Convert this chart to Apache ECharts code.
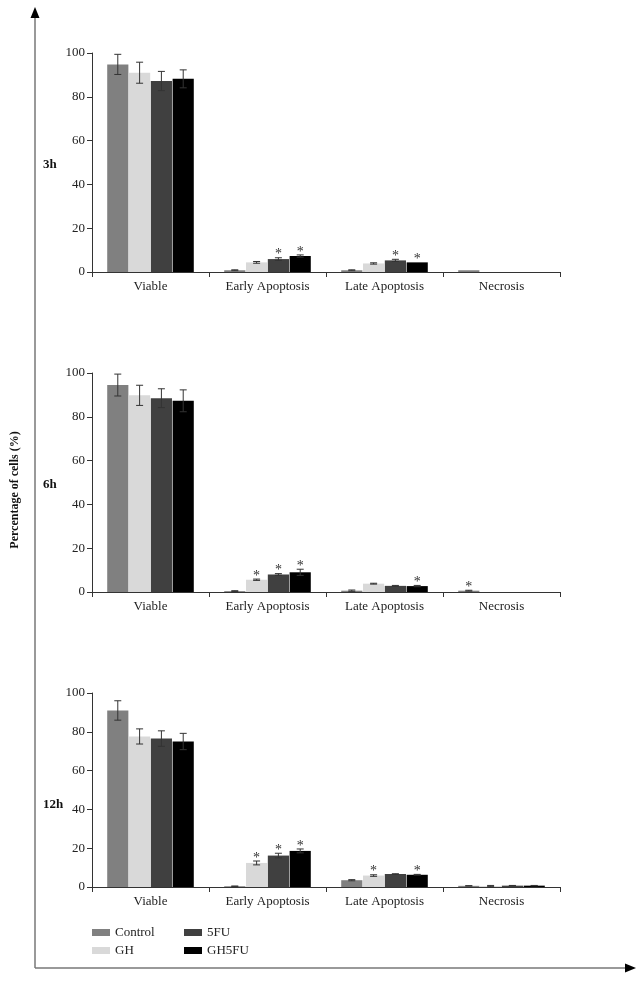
<!DOCTYPE html>
<html>
<head>
<meta charset="utf-8">
<style>html,body{margin:0;padding:0;background:#fff;}#c{width:644px;height:982px;}</style>
<script src="https://cdn.jsdelivr.net/npm/echarts@6/dist/echarts.min.js"></script>
</head>
<body>
<div id="c"></div>
<script>
const categories = ['Viable', 'Early Apoptosis', 'Late Apoptosis', 'Necrosis'];
const seriesNames = ['Control', 'GH', '5FU', 'GH5FU'];
const seriesColors = ['#808080', '#d9d9d9', '#404040', '#000000'];
const panelLabels = ['3h', '6h', '12h'];
const yTicks = [0, 20, 40, 60, 80, 100];

// 3h
const h3Control = [94.8, 0.8, 0.8, 0.8];
const h3GH = [91.0, 4.4, 3.9, 0];
const h3FU = [87.2, 5.9, 5.3, 0];
const h3GHFU = [88.2, 7.3, 4.4, 0];
const h3ControlErr = [4.6, 0.2, 0.2, 0];
const h3GHErr = [4.8, 0.4, 0.3, 0];
const h3FUErr = [4.4, 0.6, 0.5, 0];
const h3GHFUErr = [4.1, 0.5, 0, 0];
const h3ControlStar = [0, 0, 0, 0];
const h3GHStar = [0, 0, 0, 0];
const h3FUStar = [0, 1, 1, 0];
const h3GHFUStar = [0, 1, 1, 0];

// 6h
const h6Control = [94.5, 0.4, 0.6, 0.6];
const h6GH = [89.8, 5.6, 3.8, 0];
const h6FU = [88.5, 8.0, 2.8, 0];
const h6GHFU = [87.3, 9.0, 2.7, 0];
const h6ControlErr = [5.0, 0.2, 0.3, 0.2];
const h6GHErr = [4.6, 0.3, 0.2, 0];
const h6FUErr = [4.3, 0.4, 0.2, 0];
const h6GHFUErr = [5.0, 1.4, 0.3, 0];
const h6ControlStar = [0, 0, 0, 1];
const h6GHStar = [0, 1, 0, 0];
const h6FUStar = [0, 1, 0, 0];
const h6GHFUStar = [0, 1, 1, 0];

// 12h
const h12Control = [91.0, 0.4, 3.5, 0.6];
const h12GH = [77.6, 12.4, 5.9, 0.5];
const h12FU = [76.5, 16.2, 6.7, 0.7];
const h12GHFU = [75.0, 18.6, 6.3, 0.7];
const h12ControlErr = [5.0, 0.1, 0.3, 0.1];
const h12GHErr = [3.9, 1.0, 0.4, 0.3];
const h12FUErr = [4.0, 1.2, 0.1, 0.1];
const h12GHFUErr = [4.2, 1.0, 0.2, 0.1];
const h12ControlStar = [0, 0, 0, 0];
const h12GHStar = [0, 1, 1, 0];
const h12FUStar = [0, 1, 0, 0];
const h12GHFUStar = [0, 1, 1, 0];

const panels = [
  { vals: [h3Control, h3GH, h3FU, h3GHFU], errs: [h3ControlErr, h3GHErr, h3FUErr, h3GHFUErr], stars: [h3ControlStar, h3GHStar, h3FUStar, h3GHFUStar] },
  { vals: [h6Control, h6GH, h6FU, h6GHFU], errs: [h6ControlErr, h6GHErr, h6FUErr, h6GHFUErr], stars: [h6ControlStar, h6GHStar, h6FUStar, h6GHFUStar] },
  { vals: [h12Control, h12GH, h12FU, h12GHFU], errs: [h12ControlErr, h12GHErr, h12FUErr, h12GHFUErr], stars: [h12ControlStar, h12GHStar, h12FUStar, h12GHFUStar] }
];

const FONT = 'Liberation Serif';
const CAT_GAP = 0.26, BAR_GAP = 0.03;
const gridsLayout = [
  { top: 53, height: 219 },
  { top: 373, height: 219 },
  { top: 693, height: 194 }
];

const grids = [], xAxes = [], yAxes = [], series = [];
gridsLayout.forEach((g, gi) => {
  grids.push({ left: 92, right: 84, top: g.top, height: g.height, containLabel: false });
  xAxes.push({
    type: 'category', gridIndex: gi, data: categories,
    axisLine: { lineStyle: { color: '#333', width: 1 } },
    axisTick: { show: true, length: 5, lineStyle: { color: '#333' } },
    axisLabel: { fontFamily: FONT, fontSize: 13, color: '#222', margin: 8 }
  });
  yAxes.push({
    type: 'value', gridIndex: gi, min: yTicks[0], max: yTicks[yTicks.length - 1], interval: 20,
    axisLine: { show: true, lineStyle: { color: '#333', width: 1 } },
    axisTick: { show: true, length: 5, lineStyle: { color: '#333' } },
    splitLine: { show: false },
    axisLabel: { fontFamily: FONT, fontSize: 13, color: '#222', margin: 7 }
  });
  const p = panels[gi];
  seriesNames.forEach((name, si) => {
    series.push({
      type: 'bar', name: name, xAxisIndex: gi, yAxisIndex: gi,
      data: p.vals[si], barCategoryGap: (CAT_GAP * 100) + '%', barGap: (BAR_GAP * 100) + '%',
      itemStyle: { color: seriesColors[si] }, silent: true, animation: false
    });
  });
  const eb = [];
  seriesNames.forEach((name, si) => {
    p.vals[si].forEach((v, ci) => {
      eb.push([ci, v, p.errs[si][ci], si, p.stars[si][ci]]);
    });
  });
  series.push({
    type: 'custom', name: 'err' + gi, xAxisIndex: gi, yAxisIndex: gi, data: eb, z: 10,
    encode: { x: 0, y: 1 }, silent: true, animation: false,
    renderItem: function (params, api) {
      const ci = api.value(0), v = api.value(1), e = api.value(2), si = api.value(3), st = api.value(4);
      if (e <= 0 && !st) return null;
      const band = api.size([1, 0])[0];
      const bw = band * (1 - CAT_GAP) / (4 + 3 * BAR_GAP);
      const x = api.coord([ci, v])[0] + (si - 1.5) * bw * (1 + BAR_GAP);
      const yt = api.coord([ci, v + e])[1];
      const yb = api.coord([ci, Math.max(0, v - e)])[1];
      const children = [];
      const ls = { stroke: '#333', lineWidth: 1 };
      if (e > 0) {
        children.push({ type: 'line', shape: { x1: x, y1: yt, x2: x, y2: yb }, style: ls });
        children.push({ type: 'line', shape: { x1: x - 3.5, y1: yt, x2: x + 3.5, y2: yt }, style: ls });
        children.push({ type: 'line', shape: { x1: x - 3.5, y1: yb, x2: x + 3.5, y2: yb }, style: ls });
      }
      if (st) {
        children.push({ type: 'text', style: { text: '*', x: x, y: yt + 4, fontFamily: FONT, fontSize: 14, fill: '#333', textAlign: 'center', textVerticalAlign: 'bottom' } });
      }
      return { type: 'group', children: children };
    }
  });
});

const graphics = [
  { type: 'line', shape: { x1: 35, y1: 968, x2: 35, y2: 16 }, style: { stroke: '#777', lineWidth: 1.5 } },
  { type: 'polygon', shape: { points: [[35, 7], [30.5, 18], [39.5, 18]] }, style: { fill: '#000' } },
  { type: 'line', shape: { x1: 35, y1: 968, x2: 626, y2: 968 }, style: { stroke: '#777', lineWidth: 1.5 } },
  { type: 'polygon', shape: { points: [[636, 968], [625, 963.5], [625, 972.5]] }, style: { fill: '#000' } },
  { type: 'text', rotation: Math.PI / 2, x: 15, y: 490, style: { text: 'Percentage of cells (%)', fontFamily: FONT, fontSize: 12, fontWeight: 'bold', fill: '#111', textAlign: 'center', textVerticalAlign: 'middle' } }
];
const labelY = [165, 485, 805];
panelLabels.forEach((t, i) => {
  graphics.push({ type: 'text', x: 43, y: labelY[i], style: { text: t, fontFamily: FONT, fontSize: 13, fontWeight: 'bold', fill: '#111', textAlign: 'left', textVerticalAlign: 'middle' } });
});

const legendCommon = {
  orient: 'vertical', itemWidth: 18, itemHeight: 7, itemGap: 5, icon: 'rect',
  textStyle: { fontFamily: FONT, fontSize: 13, color: '#222' }, selectedMode: false
};
const chart = echarts.init(document.getElementById('c'), null, { renderer: 'canvas' });
chart.setOption({
  backgroundColor: '#fff',
  animation: false,
  grid: grids, xAxis: xAxes, yAxis: yAxes, series: series,
  legend: [
    Object.assign({ left: 87, top: 921, data: ['Control', 'GH'] }, legendCommon),
    Object.assign({ left: 179, top: 921, data: ['5FU', 'GH5FU'] }, legendCommon)
  ],
  graphic: graphics
});
</script>
</body>
</html>
